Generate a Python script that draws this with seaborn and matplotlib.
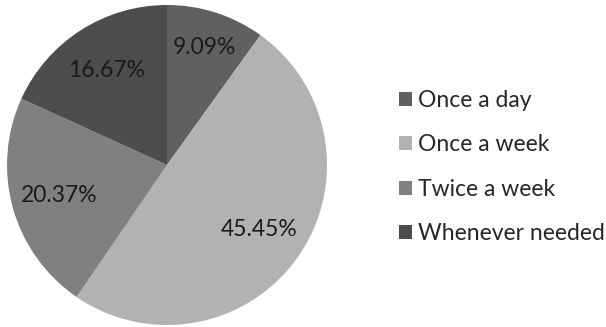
import matplotlib
matplotlib.use("Agg")
import matplotlib.pyplot as plt
import seaborn as sns
from matplotlib.patches import Patch

categories = ["Once a day", "Once a week", "Twice a week", "Whenever needed"]
values = [9.09, 45.45, 20.37, 16.67]
colors = ["#606060", "#b2b2b2", "#808080", "#4d4d4d"]
label_dist = [0.77, 0.70, 0.70, 0.70]

sns.set_theme(style="white")
plt.rcParams['font.family'] = ['Lato', 'DejaVu Sans']

fig = plt.figure(figsize=(6.06, 3.27), dpi=100)
ax = fig.add_axes([7/606, 2/327, 320/606, 320/327])
wedges, texts = ax.pie(values, colors=colors, startangle=90, counterclock=False,
                       labels=[f"{v:.2f}%" for v in values], labeldistance=1.0,
                       wedgeprops=dict(linewidth=0))
for t, d in zip(texts, label_dist):
    x, y = t.get_position()
    t.set_position((x * d, y * d))
    t.set_ha("center")
    t.set_va("center")
    t.set_fontsize(16.5)
    t.set_color("#1a1a1a")
ax.set_xlim(-1, 1)
ax.set_ylim(-1, 1)
ax.set_aspect("equal")
ax.axis("off")

handles = [Patch(facecolor=c, edgecolor="none") for c in colors]
fig.legend(handles, categories, loc="upper left", bbox_to_anchor=(399/606, 1 - 90/327),
           frameon=False, fontsize=16.5, handlelength=0.55, handleheight=0.55,
           handletextpad=0.3, labelspacing=1.02, borderpad=0, borderaxespad=0)

fig.savefig("out.png", dpi=100, facecolor="white")
